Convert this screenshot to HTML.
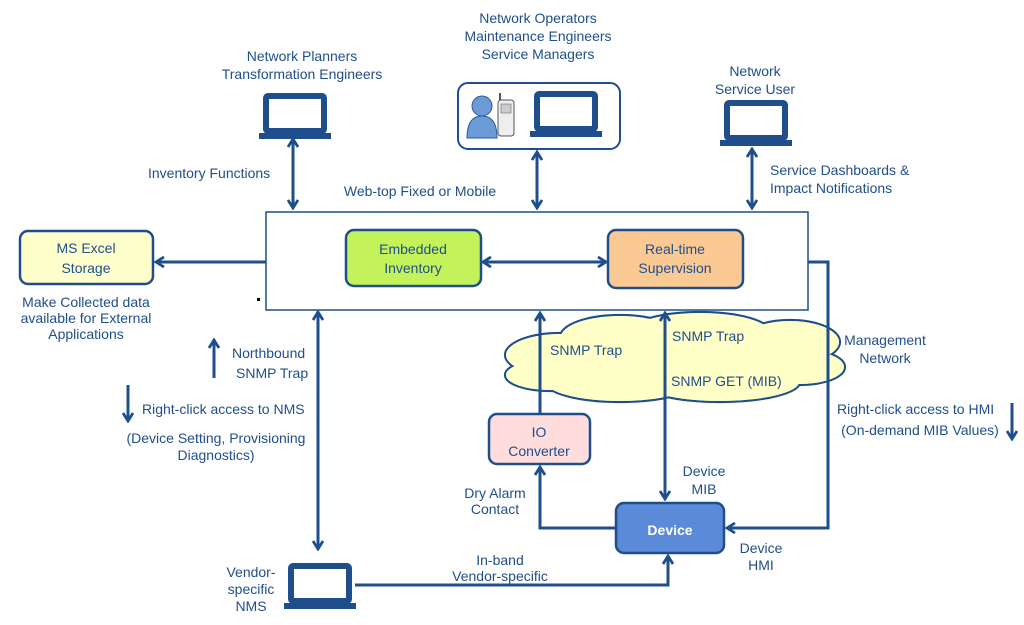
<!DOCTYPE html>
<html><head><meta charset="utf-8"><style>
body{margin:0;background:#fff}
svg{display:block}
text{font-family:"Liberation Sans",sans-serif;fill:#1f4e8c;font-size:14px}
</style></head><body>
<svg width="1024" height="625" viewBox="0 0 1024 625" xmlns="http://www.w3.org/2000/svg">
<defs>
<marker id="a" viewBox="0 0 12 12" refX="10" refY="6" markerWidth="12" markerHeight="12" orient="auto-start-reverse" markerUnits="userSpaceOnUse"><path d="M2,1 L10,6 L2,11" fill="none" stroke="#1f4e8c" stroke-width="2.8"/></marker>
<g id="lap"><rect x="7" y="2" width="58" height="35" fill="#fff" stroke="#1f4e8c" stroke-width="6" rx="2"/><rect x="0" y="39" width="72" height="6" fill="#1f4e8c"/></g>
</defs>
<g transform="translate(0,-3)">
<g fill="#fff" stroke="#1f4e8c" stroke-width="2.2">
<ellipse cx="560" cy="358" rx="55" ry="22"/><ellipse cx="620" cy="340" rx="60" ry="22"/><ellipse cx="700" cy="335" rx="70" ry="20"/><ellipse cx="790" cy="345" rx="50" ry="22"/><ellipse cx="800" cy="370" rx="45" ry="18"/><ellipse cx="720" cy="385" rx="80" ry="20"/><ellipse cx="620" cy="385" rx="75" ry="20"/><ellipse cx="550" cy="378" rx="45" ry="16"/>
</g>
<g fill="#ffffc8" stroke="none">
<ellipse cx="560" cy="358" rx="54" ry="21"/><ellipse cx="620" cy="340" rx="59" ry="21"/><ellipse cx="700" cy="335" rx="69" ry="19"/><ellipse cx="790" cy="345" rx="49" ry="21"/><ellipse cx="800" cy="370" rx="44" ry="17"/><ellipse cx="720" cy="385" rx="79" ry="19"/><ellipse cx="620" cy="385" rx="74" ry="19"/><ellipse cx="550" cy="378" rx="44" ry="15"/><rect x="560" y="345" width="240" height="40"/>
</g>
</g>
<g stroke="#1f4e8c" stroke-width="3" fill="none">
<rect x="266" y="212" width="542" height="98" stroke-width="1.5"/>
<rect x="458" y="83" width="162" height="66" rx="10" stroke-width="2"/>
<line x1="293" y1="139" x2="293" y2="208" marker-start="url(#a)" marker-end="url(#a)"/>
<line x1="537" y1="152" x2="537" y2="208" marker-start="url(#a)" marker-end="url(#a)"/>
<line x1="752" y1="149" x2="752" y2="208" marker-start="url(#a)" marker-end="url(#a)"/>
<line x1="266" y1="262" x2="156" y2="262" marker-end="url(#a)"/>
<line x1="483" y1="262" x2="606" y2="262" marker-start="url(#a)" marker-end="url(#a)"/>
<line x1="318" y1="312" x2="318" y2="549" marker-start="url(#a)" marker-end="url(#a)"/>
<line x1="540" y1="413" x2="540" y2="313" marker-end="url(#a)"/>
<line x1="665" y1="313" x2="665" y2="499" marker-start="url(#a)" marker-end="url(#a)"/>
<polyline points="615,528 540,528 540,467" marker-end="url(#a)"/>
<polyline points="808,262 828,262 828,528 727,528" marker-end="url(#a)"/>
<polyline points="355,585 668,585 668,556" marker-end="url(#a)"/>
<line x1="214" y1="378" x2="214" y2="340" marker-end="url(#a)"/>
<line x1="128" y1="385" x2="128" y2="421" marker-end="url(#a)"/>
<line x1="1012" y1="403" x2="1012" y2="439" marker-end="url(#a)"/>
</g>
<rect x="257" y="298" width="3" height="3" fill="#000"/>
<use href="#lap" x="259" y="94"/>
<use href="#lap" x="530" y="92"/>
<use href="#lap" x="720" y="101"/>
<use href="#lap" x="284" y="564"/>
<circle cx="482" cy="106" r="10" fill="#6b9ad6" stroke="#2a5a9a"/>
<path d="M467,138 Q467,116 482,116 Q497,116 497,138 Z" fill="#6b9ad6" stroke="#2a5a9a"/>
<rect x="498" y="100" width="16" height="36" rx="3" fill="#eee" stroke="#555"/>
<rect x="501" y="104" width="10" height="9" fill="#ccc" stroke="#555" stroke-width=".5"/>
<line x1="500" y1="100" x2="500" y2="93" stroke="#555" stroke-width="2"/>
<rect x="20" y="231" width="133" height="53" rx="8" fill="#ffffcc" stroke="#1f4e8c" stroke-width="2.5"/>
<rect x="346" y="230" width="135" height="56" rx="8" fill="#c4f25a" stroke="#1f4e8c" stroke-width="2.5"/>
<rect x="608" y="230" width="135" height="58" rx="8" fill="#fbc994" stroke="#1f4e8c" stroke-width="2.5"/>
<rect x="489" y="414" width="101" height="50" rx="8" fill="#fdd" stroke="#1f4e8c" stroke-width="2.5"/>
<rect x="616" y="503" width="108" height="50" rx="8" fill="#5b8ad8" stroke="#1f4e8c" stroke-width="2.5"/>
<g text-anchor="middle">
<text x="86" y="253" font-size="16">MS Excel</text><text x="86" y="273" font-size="16">Storage</text>
<text x="413" y="254" font-size="16">Embedded</text><text x="413" y="273" font-size="16">Inventory</text>
<text x="675" y="254" font-size="16">Real-time</text><text x="675" y="273" font-size="16">Supervision</text>
<text x="539" y="437" font-size="16">IO</text><text x="539" y="456" font-size="16">Converter</text>
<text x="670" y="535" font-size="18" font-weight="bold" style="fill:#fff">Device</text>
<text x="302" y="61" font-size="16">Network Planners</text><text x="302" y="79" font-size="16">Transformation Engineers</text>
<text x="538" y="23" font-size="16">Network Operators</text><text x="538" y="41" font-size="16">Maintenance Engineers</text><text x="538" y="59" font-size="16">Service Managers</text>
<text x="755" y="76" font-size="16">Network</text><text x="755" y="94" font-size="16">Service User</text>
<text x="420" y="196" font-size="16">Web-top Fixed or Mobile</text>
<text x="86" y="307">Make Collected data</text><text x="86" y="323">available for External</text><text x="86" y="339">Applications</text>
<text x="216" y="443">(Device Setting, Provisioning</text><text x="216" y="460">Diagnostics)</text>
<text x="704" y="476" font-size="15">Device</text><text x="704" y="494" font-size="15">MIB</text>
<text x="761" y="553" font-size="15">Device</text><text x="761" y="570" font-size="15">HMI</text>
<text x="495" y="498">Dry Alarm</text><text x="495" y="514">Contact</text>
<text x="500" y="565">In-band</text><text x="500" y="581">Vendor-specific</text>
<text x="251" y="577" font-size="15">Vendor-</text><text x="251" y="594" font-size="15">specific</text><text x="251" y="611" font-size="15">NMS</text>
<text x="885" y="345">Management</text><text x="885" y="363">Network</text>
<text x="920" y="435">(On-demand MIB Values)</text>
</g>
<text x="148" y="178">Inventory Functions</text>
<text x="770" y="175">Service Dashboards &amp;</text><text x="770" y="193">Impact Notifications</text>
<text x="232" y="358">Northbound</text><text x="236" y="378">SNMP Trap</text>
<text x="142" y="414">Right-click access to NMS</text>
<text x="837" y="414">Right-click access to HMI</text>
<text x="550" y="355">SNMP Trap</text>
<text x="672" y="341">SNMP Trap</text>
<text x="671" y="386">SNMP GET (MIB)</text>
</svg>
</body></html>
